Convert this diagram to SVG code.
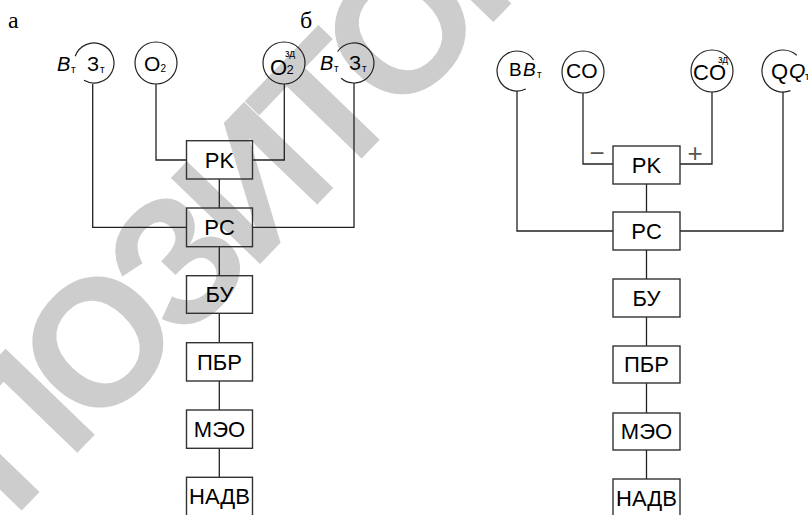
<svg xmlns="http://www.w3.org/2000/svg" width="808" height="515" viewBox="0 0 808 515">
<style>
.wm{font-family:"Liberation Sans",Arial,sans-serif;font-weight:bold;font-size:180px;fill:#cdcdcd;letter-spacing:-13px}
.box{fill:none;stroke:#333;stroke-width:1.4}
.ln{fill:none;stroke:#222;stroke-width:1.3}
.ci{fill:none;stroke:#222;stroke-width:1.2}
.bt{font-family:"Liberation Sans",Arial,sans-serif;font-size:22px;fill:#000;text-anchor:middle}
.s{font-family:"Liberation Sans",Arial,sans-serif;fill:#000}
.it{font-style:italic}
.lbl{font-family:"Liberation Serif","Times New Roman",serif;font-size:24px;fill:#000}
.pm{font-family:"Liberation Sans",Arial,sans-serif;font-size:26px;fill:#555;text-anchor:middle}
</style>
<rect width="808" height="515" fill="#fff"/>
<g id="watermark">
<text class="wm" transform="translate(13.3,519.3) rotate(-46)" x="0" y="0">ПОЗИТОРИЙ</text>
</g>
<text class="lbl" x="8" y="28">а</text>
<text class="lbl" x="300" y="28">б</text>
<g id="connectors">
<path class="ln" d="M92.7 84V227.3H187"/>
<path class="ln" d="M156 84V160H187"/>
<path class="ln" d="M284.3 84V160H252.7"/>
<path class="ln" d="M354 83V227.3H252.7"/>
<path class="ln" d="M219.3 179V208M219.3 246.7V275.7M219.3 313.3V342.7M219.3 381V410M219.3 448.3V477.3"/>
<path class="ln" d="M517 91V231H613"/>
<path class="ln" d="M583 93V164H613"/>
<path class="ln" d="M712 92V164H680"/>
<path class="ln" d="M783 92V231H680"/>
<path class="ln" d="M646.5 184V212M646.5 250V279M646.5 317V346M646.5 383V413M646.5 450V479"/>
<text class="pm" x="597" y="162">−</text>
<text class="pm" x="695" y="162">+</text>
</g>
<g id="a-bt">
<path class="ci" d="M75.2 56.2A20 20 0 1 1 84 80.3"/>
<text class="s it" x="57" y="71" font-size="20">B</text><text class="s" x="71" y="73" font-size="10">т</text>
<text class="s" x="87" y="71" font-size="20">З</text><text class="s" x="100" y="73" font-size="10">т</text>
</g>
<g id="a-o2">
<circle class="ci" cx="156" cy="63" r="21"/>
<text class="s" x="144" y="71" font-size="21">O</text><text class="s" x="160.5" y="72" font-size="10">2</text>
</g>
<g id="a-o2zd">
<circle class="ci" cx="284" cy="63" r="21"/>
<text class="s" x="270" y="75" font-size="22">O</text><text class="s" x="286.5" y="74" font-size="13">2</text>
<text class="s" x="285" y="57" font-size="10">зд</text>
</g>
<g id="a-bt2">
<path class="ci" d="M337.6 51.5A20 20 0 1 1 341.1 78.3"/>
<text class="s it" x="320" y="70" font-size="20">B</text><text class="s" x="334" y="72" font-size="10">т</text>
<text class="s" x="349" y="70" font-size="20">З</text><text class="s" x="362" y="72" font-size="10">т</text>
</g>
<g id="a-rk"><rect class="box" x="186.5" y="140.7" width="66" height="38.3"/><text class="bt" x="219.5" y="167.5">PK</text></g>
<g id="a-rs"><rect class="box" x="186.5" y="208" width="66" height="38.7"/><text class="bt" x="219.5" y="235">PC</text></g>
<g id="a-bu"><rect class="box" x="186.5" y="275.7" width="66" height="37.6"/><text class="bt" x="219.5" y="302">БУ</text></g>
<g id="a-pbr"><rect class="box" x="186.5" y="342.7" width="66" height="38.3"/><text class="bt" x="219.5" y="369.5">ПБР</text></g>
<g id="a-meo"><rect class="box" x="186.5" y="410" width="66" height="38.3"/><text class="bt" x="219.5" y="436.5">МЭО</text></g>
<g id="a-nadv"><rect class="box" x="186.5" y="477.3" width="66" height="45"/><text class="bt" x="219.5" y="504">НАДВ</text></g>
<g id="b-bbt">
<path class="ci" d="M525.8 89A20 20 0 1 1 533.6 59.8"/>
<text class="s" x="509" y="76" font-size="19">B</text>
<text class="s it" x="523" y="76" font-size="19">B</text><text class="s" x="537" y="78" font-size="10">т</text>
</g>
<g id="b-co">
<circle class="ci" cx="583" cy="72" r="21"/>
<text class="s" x="566" y="78" font-size="21">CO</text>
</g>
<g id="b-cozd">
<circle class="ci" cx="712" cy="71" r="21"/>
<text class="s" x="693" y="80" font-size="22">CO</text>
<text class="s" x="718" y="63" font-size="10">зд</text>
</g>
<g id="b-q">
<path class="ci" d="M790.5 90.6A21 21 0 1 1 796.8 55.2"/>
<text class="s" x="771" y="79" font-size="22">Q</text>
<text class="s it" x="789" y="78" font-size="21">Q</text><text class="s" x="805" y="80" font-size="10">т</text>
</g>
<g id="b-rk"><rect class="box" x="613" y="146" width="67" height="38"/><text class="bt" x="646.5" y="172.5">PK</text></g>
<g id="b-rs"><rect class="box" x="613" y="212" width="67" height="38"/><text class="bt" x="646.5" y="238.5">PC</text></g>
<g id="b-bu"><rect class="box" x="613" y="279" width="67" height="38"/><text class="bt" x="646.5" y="305.5">БУ</text></g>
<g id="b-pbr"><rect class="box" x="613" y="346" width="67" height="37"/><text class="bt" x="646.5" y="372">ПБР</text></g>
<g id="b-meo"><rect class="box" x="613" y="413" width="67" height="37"/><text class="bt" x="646.5" y="439">МЭО</text></g>
<g id="b-nadv"><rect class="box" x="613" y="479" width="67" height="45"/><text class="bt" x="646.5" y="505.5">НАДВ</text></g>
</svg>
